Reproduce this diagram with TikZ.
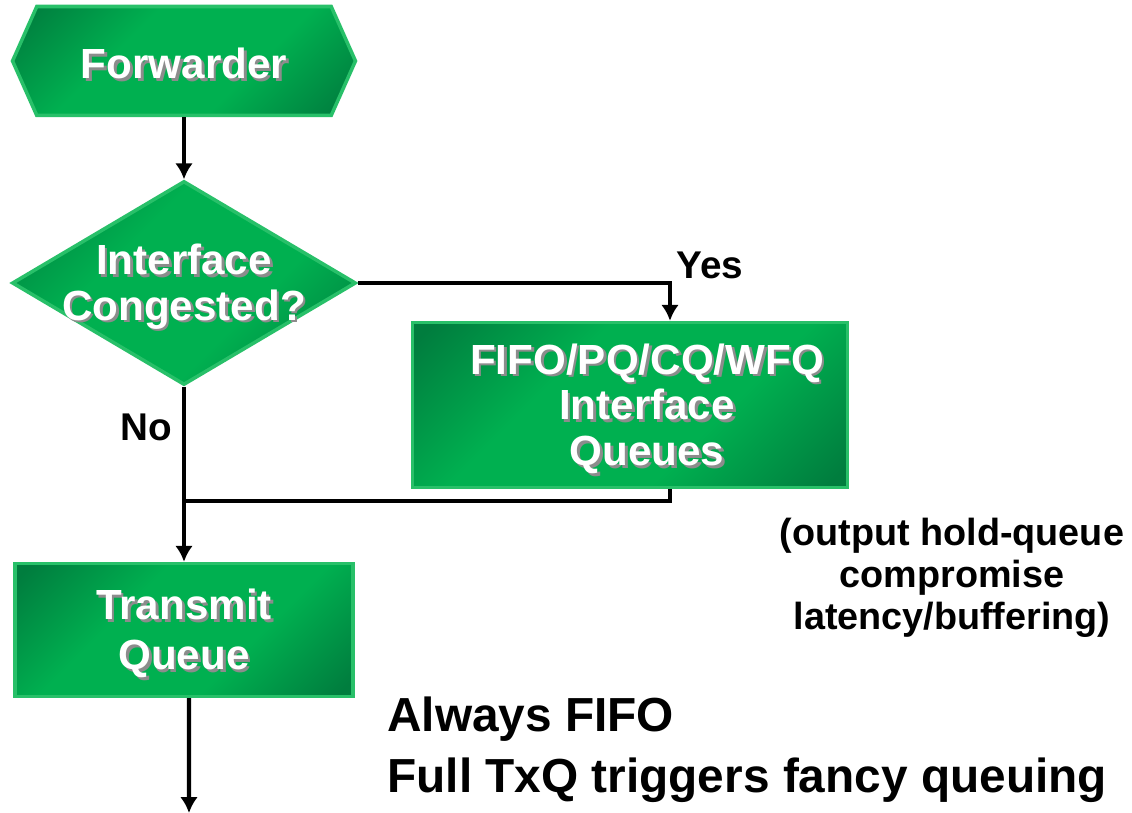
\documentclass[tikz,border=0pt]{standalone}
\usepackage{fontspec}
\setmainfont{Liberation Sans}
\usetikzlibrary{shapes.geometric,shapes.symbols,arrows.meta}
\definecolor{gdark}{RGB}{0,125,62}
\definecolor{gmid}{RGB}{0,176,80}
\definecolor{gedge}{RGB}{40,192,105}
\definecolor{shgray}{RGB}{140,140,140}
\pgfdeclareverticalshading{gshade}{100bp}{color(0bp)=(gdark); color(17bp)=(gdark);
  color(38bp)=(gmid); color(62bp)=(gmid); color(83bp)=(gdark); color(100bp)=(gdark)}
\newcommand{\shtxt}[1]{\leavevmode\rlap{\hspace{1.5pt}\raisebox{-1.5pt}{\color{shgray}#1}}#1}
\tikzset{
  gbox/.style={draw=gedge, line width=2pt, shading=gshade, shading angle=45},
  btxt/.style={text=white, font=\fontsize{24}{26}\selectfont\bfseries, align=center},
  lbl/.style={font=\fontsize{22}{24}\selectfont\bfseries},
  flow/.style={line width=2.5pt, ->},
}
\begin{document}
\begin{tikzpicture}[x=0.02cm,y=-0.02cm,>={Latex[length=9pt,width=10pt]}]
\useasboundingbox (0,0) rectangle (1132,813);
% green shapes
\node (fwd) [gbox, signal, signal to=west and east, signal pointer angle=132,
  minimum width=6.86cm, minimum height=2.18cm, inner sep=0pt] at (184,61) {};
\node (dia) [gbox, diamond, minimum width=6.88cm, minimum height=4.08cm, inner sep=0pt] at (184,283) {};
\node (fifo) [gbox, rectangle, minimum width=8.7cm, minimum height=3.3cm] at (630,405) {};
\node (tq) [gbox, rectangle, minimum width=6.76cm, minimum height=2.66cm] at (184,630) {};
% their texts
\node (fwdtxt) [btxt] at (184,65) {\shtxt{Forwarder}};
\node (diatxt) [btxt] at (184,288) {\shtxt{Interface}\\\shtxt{Congested?}};
\node (fifotxt) [btxt] at (647,410) {\shtxt{FIFO/PQ/CQ/WFQ}\\\shtxt{Interface}\\\shtxt{Queues}};
\node (tqtxt) [btxt, font=\fontsize{24}{28.5}\selectfont\bfseries] at (184,635) {\shtxt{Transmit}\\\shtxt{Queue}};
% connectors
\draw[flow] (fwd.south) -- (dia.north);
\draw[flow] (dia.east) -| ([xshift=0.8cm]fifo.north);
\node (yes) [lbl] at (710,265) {Yes};
\coordinate (merge) at (182,501);
\draw[line width=2.5pt] ([xshift=0.8cm]fifo.south) |- (merge);
\draw[flow] (dia.south) -- (tq.north);
\node (no) [lbl] at (146,427) {No};
\coordinate (out) at (189,813);
\draw[flow] ([xshift=0.1cm]tq.south) -- (out);
% notes
\node (note) [font=\fontsize{21.5}{23.8}\selectfont\bfseries, align=center] at (952,578)
  {(output hold-queue\\compromise\\latency/buffering)};
\node (always) [font=\fontsize{27.2}{34.6}\selectfont\bfseries, align=left, anchor=west, inner sep=0pt] at (387,750)
  {Always FIFO\\Full TxQ triggers fancy queuing};
\end{tikzpicture}
\end{document}
